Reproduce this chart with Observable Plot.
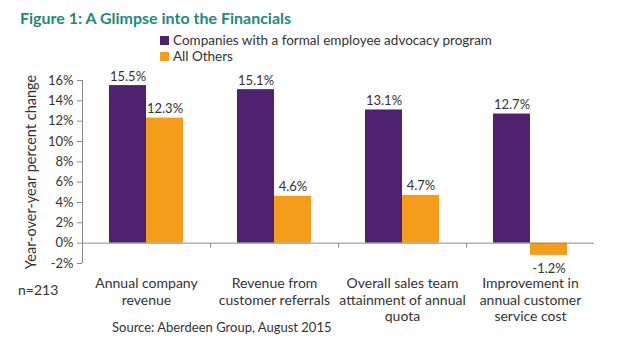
<!DOCTYPE html>
<html>
<head>
<meta charset="utf-8">
<script src="https://cdn.jsdelivr.net/npm/d3@7"></script>
<script src="https://cdn.jsdelivr.net/npm/@observablehq/plot@0.6"></script>
<style>
  html, body { margin: 0; padding: 0; background: #fff; }
  #wrap { position: relative; width: 630px; height: 364px; overflow: hidden; font-family: Lato, "Open Sans", sans-serif; color: #333; }
  #title { position: absolute; left: 20px; top: 8px; font-size: 16px; font-weight: bold; color: #23897c; white-space: nowrap; }
  .leg { position: absolute; left: 160px; font-size: 13.5px; white-space: nowrap; display: flex; align-items: center; }
  .sw { display: inline-block; width: 9px; height: 9px; margin-right: 4px; }
  #n { position: absolute; left: 18px; top: 281px; font-size: 14px; }
  #source { position: absolute; left: 112px; top: 319px; font-size: 13px; white-space: nowrap; }
  #chart { position: absolute; left: 0; top: 0; }
</style>
</head>
<body>
<div id="wrap">
  <div id="chart"></div>
  <div id="title"></div>
  <div id="legend"></div>
  <div id="n"></div>
  <div id="source"></div>
</div>
<script>
const titleText = "Figure 1: A Glimpse into the Financials";
const seriesNames = ["Companies with a formal employee advocacy program", "All Others"];
const seriesColors = ["#4e2270", "#f59d1b"];
const categories = [
  "Annual company\nrevenue",
  "Revenue from\ncustomer referrals",
  "Overall sales team\nattainment of annual\nquota",
  "Improvement in\nannual customer\nservice cost"
];
const advocacyValues = [15.5, 15.1, 13.1, 12.7];
const otherValues = [12.3, 4.6, 4.7, -1.2];
const yTicks = [-2, 0, 2, 4, 6, 8, 10, 12, 14, 16];
const yLabel = "Year-over-year percent change";
const nText = "n=213";
const sourceText = "Source: Aberdeen Group, August 2015";

const data = [];
categories.forEach((c, i) => {
  data.push({category: c, series: seriesNames[0], value: advocacyValues[i]});
  data.push({category: c, series: seriesNames[1], value: otherValues[i]});
});
const fmt = v => v.toFixed(1) + "%";

const plot = Plot.plot({
  width: 630,
  height: 364,
  marginTop: 80,
  marginBottom: 101,
  marginLeft: 82,
  marginRight: 36,
  style: {fontFamily: "Lato, 'Open Sans', sans-serif", fontSize: "13px", color: "#333", background: "transparent"},
  fx: {domain: categories, padding: 0, axis: null},
  x: {domain: seriesNames, paddingInner: 0, paddingOuter: 0.706, axis: null},
  y: {domain: [-2, 16], axis: null},
  color: {domain: seriesNames, range: seriesColors},
  marks: [
    Plot.axisY({ticks: yTicks, tickFormat: d => d + "%", tickSize: 5, tickPadding: 4, fontSize: 13, stroke: "#8a8a8a", label: null}),
    Plot.axisY({ticks: [], tickSize: 0, label: yLabel, labelAnchor: "center", labelOffset: 57, labelArrow: "none", fontSize: 14.5}),
    Plot.barY(data, {fx: "category", x: "series", y: "value", fill: "series"}),
    Plot.ruleY([0], {stroke: "#8a8a8a", strokeWidth: 1}),
    Plot.text(data.filter(d => d.value >= 0), {fx: "category", x: "series", y: "value", text: d => fmt(d.value), lineAnchor: "bottom", dy: -5, fontSize: 13, fill: "#333"}),
    Plot.text(data.filter(d => d.value < 0), {fx: "category", x: "series", y: "value", text: d => fmt(d.value), lineAnchor: "middle", dy: 13, fontSize: 13, fill: "#333"}),
    Plot.text(categories, {fx: d => d, text: d => d, frameAnchor: "bottom", lineAnchor: "top", dy: 13, lineHeight: 1.18, fontSize: 14, fill: "#333"})
  ]
});
document.getElementById("chart").appendChild(plot);

// Axis line and category boundary ticks, positioned through Plot's own scales
const fxS = plot.scale("fx");
const yS = plot.scale("y");
const svg = d3.select(plot);
const g = svg.append("g").attr("stroke", "#8a8a8a").attr("stroke-width", 1);
const left = fxS.apply(categories[0]);
g.append("line")
  .attr("x1", left + 0.5).attr("x2", left + 0.5)
  .attr("y1", yS.apply(yTicks[yTicks.length - 1])).attr("y2", yS.apply(yTicks[0]));
categories.slice(1).forEach(c => {
  const x = fxS.apply(c);
  g.append("line").attr("x1", x + 0.5).attr("x2", x + 0.5)
    .attr("y1", yS.apply(0)).attr("y2", yS.apply(0) + 5);
});

document.getElementById("title").textContent = titleText;
const legend = document.getElementById("legend");
seriesNames.forEach((s, i) => {
  const row = document.createElement("div");
  row.className = "leg";
  row.style.top = (32 + i * 16) + "px";
  row.innerHTML = `<span class="sw" style="background:${seriesColors[i]}"></span>`;
  row.appendChild(document.createTextNode(s));
  legend.appendChild(row);
});
document.getElementById("n").textContent = nText;
document.getElementById("source").textContent = sourceText;
</script>
</body>
</html>
